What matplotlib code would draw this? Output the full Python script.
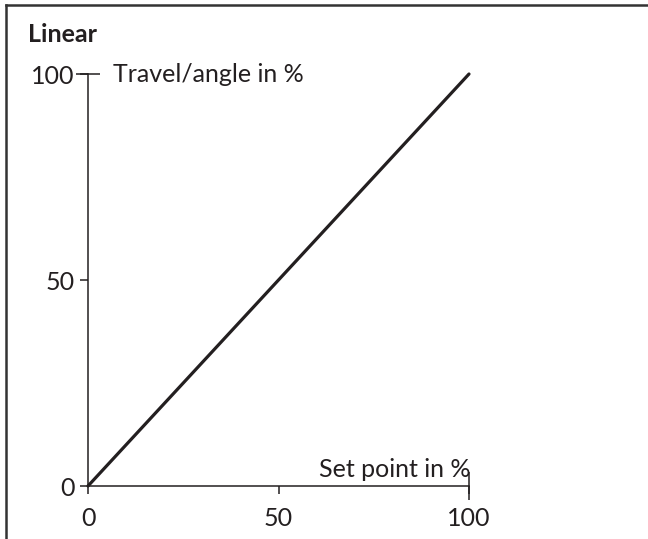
import matplotlib
matplotlib.use("Agg")
import matplotlib.pyplot as plt
from matplotlib.lines import Line2D

# Data: linear characteristic, travel follows set point 1:1
set_point = [0, 100]
travel = [0, 100]
tick_values = [0, 50, 100]

ink = "#231f20"
plt.rcParams['font.family'] = ['Lato', 'DejaVu Sans']

fig = plt.figure(figsize=(6.48, 5.39), dpi=100)
ax = fig.add_axes([88/648, 53/539, 381/648, 412/539])

ax.plot(set_point, travel, color=ink, lw=2.3, solid_capstyle='round', clip_on=False)

ax.set_xlim(0, 100)
ax.set_ylim(0, 100)
for s in ['top', 'right']:
    ax.spines[s].set_visible(False)
for s in ['left', 'bottom']:
    ax.spines[s].set_color(ink)
    ax.spines[s].set_linewidth(1.1)

ax.set_xticks(tick_values)
ax.set_yticks(tick_values)
ax.tick_params(which='major', direction='out', length=5.8, width=1.1, color=ink,
               labelsize=18, labelcolor=ink)
ax.tick_params(axis='y', which='major', pad=4)
ax.tick_params(axis='x', which='major', pad=9)

# longer crossing ticks at the axis ends
ax.xaxis.remove_overlapping_locs = False
ax.yaxis.remove_overlapping_locs = False
ax.set_xticks([100], minor=True)
ax.set_yticks([100], minor=True)
ax.tick_params(which='minor', direction='inout', width=1.1, color=ink, labelbottom=False, labelleft=False)
ax.tick_params(axis='x', which='minor', length=20)
ax.tick_params(axis='y', which='minor', length=17)

ax.text(6.6, 98.1, "Travel/angle in %", fontsize=18, color=ink, ha='left', va='baseline')
ax.text(100.3, 2.2, "Set point in %", fontsize=18, color=ink, ha='right', va='baseline')

fig.text(28/648, (539-42)/539, "Linear", fontsize=18, fontweight='bold', color=ink,
         ha='left', va='baseline')

# frame around the panel (top and left edges visible)
fig.add_artist(Line2D([6/648, 6/648], [0, 1 - 5/539], transform=fig.transFigure, color="#333333", lw=1.8))
fig.add_artist(Line2D([6/648, 1], [1 - 5/539, 1 - 5/539], transform=fig.transFigure, color="#333333", lw=1.8))

fig.savefig("out.png", dpi=100)
